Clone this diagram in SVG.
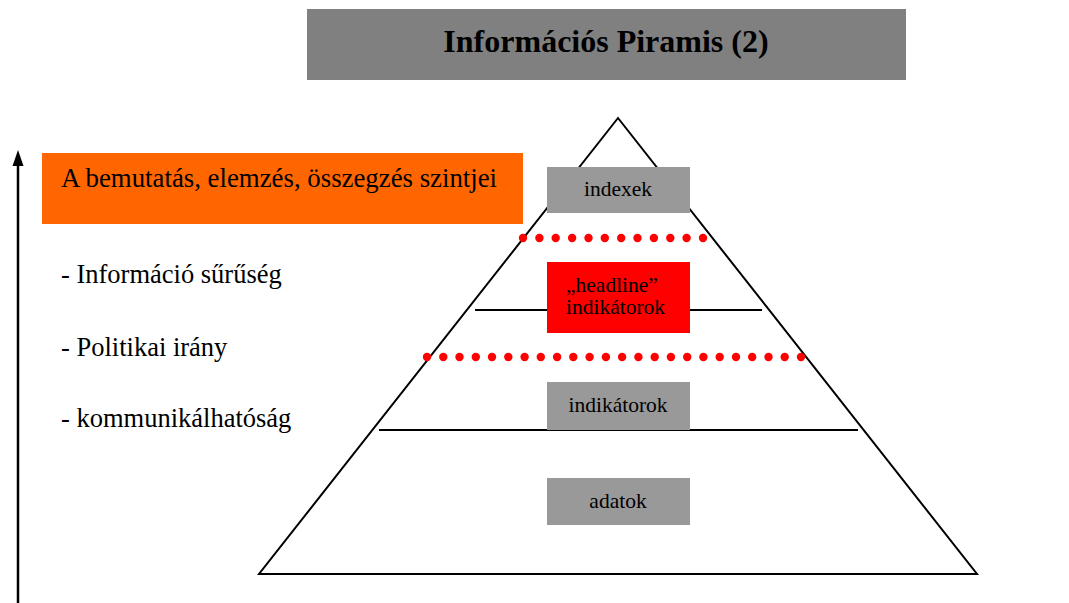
<svg xmlns="http://www.w3.org/2000/svg" width="1069" height="603" viewBox="0 0 1069 603">
  <style>
    .serif { font-family: "Liberation Serif", "Times New Roman", serif; fill: #000; }
    .label { font-size: 21.5px; text-anchor: middle; }
    .bullet { font-size: 26.5px; }
    .box { fill: #999999; }
    .edge { stroke: #000; stroke-width: 2; fill: none; }
    .dot { fill: #ff0000; }
  </style>

  <rect width="1069" height="603" fill="#fff"/>

  <!-- title -->
  <g id="title">
    <rect x="307" y="9" width="599" height="71" fill="#808080"/>
    <text class="serif" x="606" y="52" font-size="32" font-weight="bold" text-anchor="middle">Információs Piramis (2)</text>
  </g>

  <!-- vertical axis arrow -->
  <g id="connectors">
    <line x1="18" y1="603" x2="18" y2="160" stroke="#000" stroke-width="2.5"/>
    <path d="M18,150 L12.5,166 L23.5,166 Z" fill="#000"/>
  </g>

  <!-- heading box -->
  <g id="levels-heading">
    <rect x="42" y="153" width="481" height="71" fill="#ff6600"/>
    <text class="serif" x="61" y="187" font-size="26.8">A bemutatás, elemzés, összegzés szintjei</text>
  </g>

  <!-- criteria list -->
  <g id="criteria">
    <text class="serif bullet" x="61" y="283">- Információ sűrűség</text>
    <text class="serif bullet" x="61" y="356">- Politikai irány</text>
    <text class="serif bullet" x="61" y="427">- kommunikálhatóság</text>
  </g>

  <!-- pyramid outline and tier dividers -->
  <g id="pyramid">
    <path class="edge" d="M618,118 L259,574 L977,574 Z"/>
    <line class="edge" x1="475" y1="310" x2="762" y2="310"/>
    <line class="edge" x1="379" y1="430" x2="858" y2="430"/>
  </g>

  <!-- dotted boundaries -->
  <g id="boundaries" class="dot">
    <circle cx="523" cy="238" r="4.2"/><circle cx="539.4" cy="238" r="4.2"/><circle cx="555.7" cy="238" r="4.2"/><circle cx="572.1" cy="238" r="4.2"/>
    <circle cx="588.5" cy="238" r="4.2"/><circle cx="604.8" cy="238" r="4.2"/><circle cx="621.2" cy="238" r="4.2"/><circle cx="637.5" cy="238" r="4.2"/>
    <circle cx="653.9" cy="238" r="4.2"/><circle cx="670.3" cy="238" r="4.2"/><circle cx="686.6" cy="238" r="4.2"/><circle cx="703" cy="238" r="4.2"/>

    <circle cx="427" cy="357" r="4.2"/><circle cx="443.3" cy="357" r="4.2"/><circle cx="459.5" cy="357" r="4.2"/><circle cx="475.8" cy="357" r="4.2"/>
    <circle cx="492" cy="357" r="4.2"/><circle cx="508.3" cy="357" r="4.2"/><circle cx="524.6" cy="357" r="4.2"/><circle cx="540.8" cy="357" r="4.2"/>
    <circle cx="557.1" cy="357" r="4.2"/><circle cx="573.3" cy="357" r="4.2"/><circle cx="589.6" cy="357" r="4.2"/><circle cx="605.9" cy="357" r="4.2"/>
    <circle cx="622.1" cy="357" r="4.2"/><circle cx="638.4" cy="357" r="4.2"/><circle cx="654.7" cy="357" r="4.2"/><circle cx="670.9" cy="357" r="4.2"/>
    <circle cx="687.2" cy="357" r="4.2"/><circle cx="703.4" cy="357" r="4.2"/><circle cx="719.7" cy="357" r="4.2"/><circle cx="736" cy="357" r="4.2"/>
    <circle cx="752.2" cy="357" r="4.2"/><circle cx="768.5" cy="357" r="4.2"/><circle cx="784.7" cy="357" r="4.2"/><circle cx="801" cy="357" r="4.2"/>
  </g>

  <!-- tiers -->
  <g id="indexek">
    <rect class="box" x="547" y="167" width="143" height="46"/>
    <text class="serif label" x="618" y="196">indexek</text>
  </g>
  <g id="headline">
    <rect x="547" y="262" width="143" height="71" fill="#ff0000"/>
    <text class="serif" x="566" y="292" font-size="21.5">„headline”</text>
    <text class="serif" x="566" y="314" font-size="21.5">indikátorok</text>
  </g>
  <g id="indikatorok">
    <rect class="box" x="547" y="382" width="143" height="48"/>
    <text class="serif label" x="618" y="412">indikátorok</text>
  </g>
  <g id="adatok">
    <rect class="box" x="547" y="478" width="143" height="47"/>
    <text class="serif label" x="618" y="508">adatok</text>
  </g>
</svg>
